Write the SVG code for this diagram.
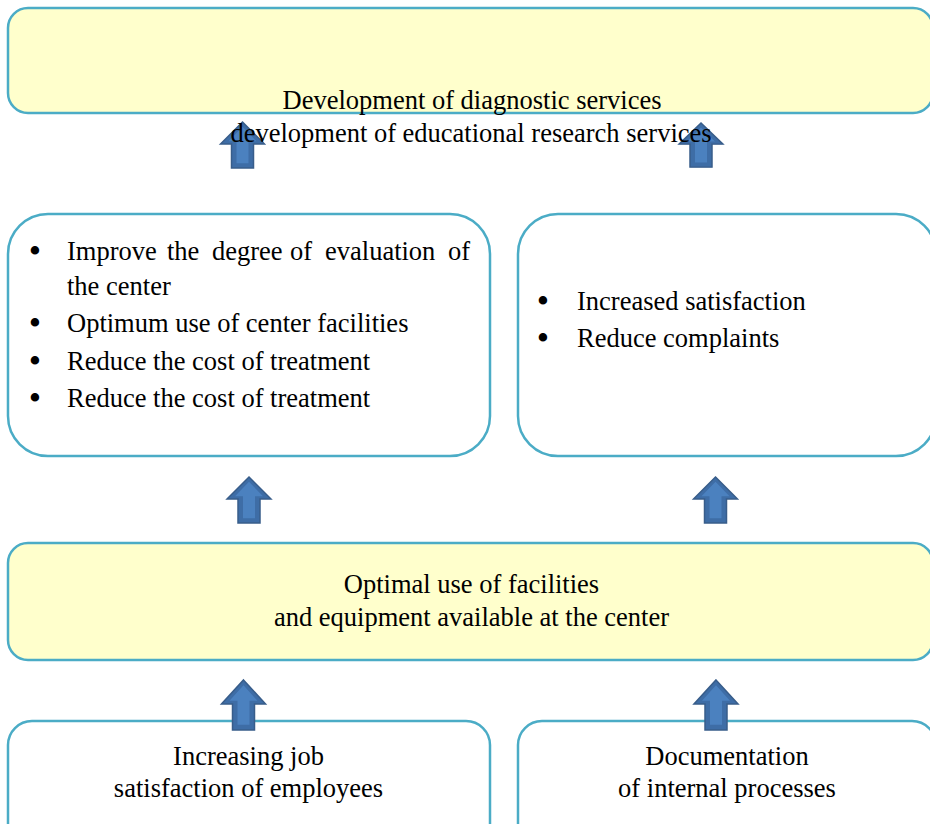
<svg xmlns="http://www.w3.org/2000/svg" width="930" height="824" viewBox="0 0 930 824">
<style>
.box{stroke:#4BACC6;stroke-width:2.5}
.yel{fill:#FFFFCC}
.wht{fill:#FFFFFF}
text{font-family:"Liberation Serif","Times New Roman",serif;font-size:26.5px;fill:#000}
text.b{font-size:31px;font-weight:bold}
.c{text-anchor:middle}
.arr{fill:#3E6DA6;stroke:#385D8A;stroke-width:1.5;stroke-linejoin:miter}
.arrin{fill:#4F86C6}
</style>
<defs>
<g id="arrow">
<path class="arr" d="M0,0 L22,23 L11,23 L11,48 L-11,48 L-11,23 L-22,23 Z"/>
<path class="arrin" d="M0,5 L14,20 L6,20 L6,43 L-6,43 L-6,20 L-14,20 Z" opacity="0.8"/>
</g>
</defs>
<rect width="930" height="824" fill="#FFFFFF"/>

<g id="node-left-benefits">
<rect class="box wht" x="8" y="214" width="482" height="242" rx="40" ry="40"/>
<text class="b" x="29.5" y="261">•</text>
<text y="260"><tspan x="67">Improve</tspan><tspan x="167">the</tspan><tspan x="212">degree</tspan><tspan x="290">of</tspan><tspan x="325">evaluation</tspan><tspan x="448">of</tspan></text>
<text x="67" y="295">the center</text>
<text class="b" x="29.5" y="333">•</text>
<text x="67" y="332">Optimum use of center facilities</text>
<text class="b" x="29.5" y="371">•</text>
<text x="67" y="370">Reduce the cost of treatment</text>
<text class="b" x="29.5" y="408">•</text>
<text x="67" y="407">Reduce the cost of treatment</text>
</g>

<g id="node-right-benefits">
<rect class="box wht" x="518" y="214" width="418" height="242" rx="40" ry="40"/>
<text class="b" x="537.5" y="311">•</text>
<text x="577" y="310">Increased satisfaction</text>
<text class="b" x="537.5" y="348">•</text>
<text x="577" y="347">Reduce complaints</text>
</g>

<g id="node-optimal">
<rect class="box yel" x="8" y="543" width="925" height="117" rx="20" ry="20"/>
<text class="c" x="471.5" y="593">Optimal use of facilities</text>
<text class="c" x="471.5" y="626">and equipment available at the center</text>
</g>

<g id="node-job-satisfaction">
<rect class="box wht" x="8" y="721" width="482" height="130" rx="24" ry="24"/>
<text class="c" x="248.5" y="765">Increasing job</text>
<text class="c" x="248.5" y="797">satisfaction of employees</text>
</g>

<g id="node-documentation">
<rect class="box wht" x="518" y="721" width="418" height="130" rx="24" ry="24"/>
<text class="c" x="727" y="765">Documentation</text>
<text class="c" x="727" y="797">of internal processes</text>
</g>

<g id="connectors">
<use href="#arrow" transform="translate(242.5,122) scale(1,0.96)"/>
<use href="#arrow" transform="translate(701,123) scale(1,0.92)"/>
<use href="#arrow" transform="translate(249,477) scale(1,0.96)"/>
<use href="#arrow" transform="translate(715.5,477) scale(1,0.96)"/>
<use href="#arrow" transform="translate(243.5,680) scale(1,1.04)"/>
<use href="#arrow" transform="translate(716,680) scale(1,1.04)"/>
</g>

<g id="node-development">
<rect class="box yel" x="8" y="8" width="925" height="105" rx="20" ry="20"/>
<text class="c" x="472" y="109">Development of diagnostic services</text>
<text class="c" x="471" y="142">development of educational research services</text>
</g>
</svg>
